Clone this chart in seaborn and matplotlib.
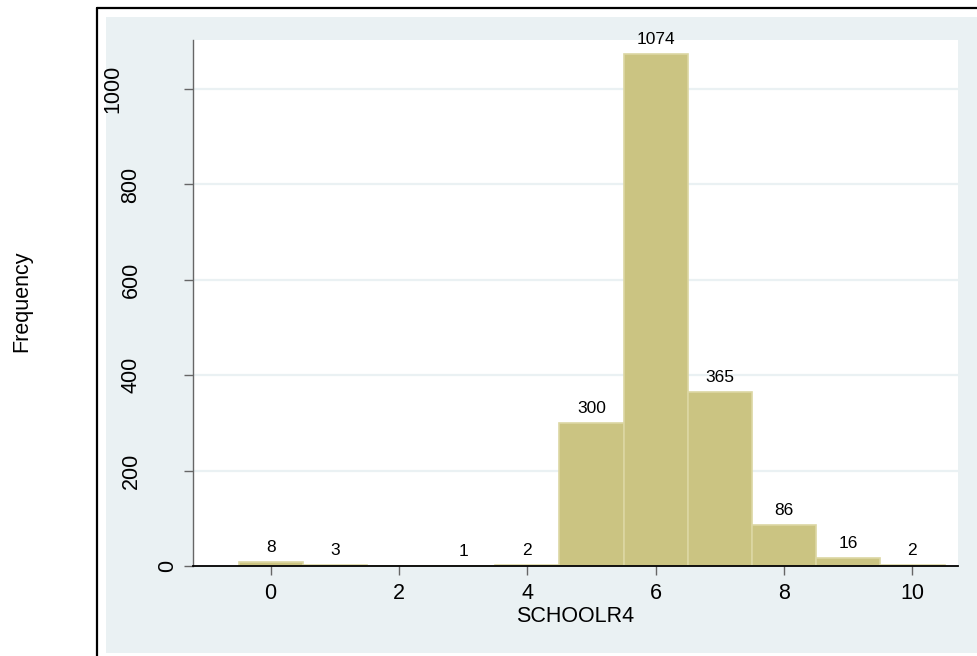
import matplotlib
matplotlib.use("Agg")
import matplotlib.pyplot as plt
from matplotlib.transforms import ScaledTranslation
from matplotlib.patches import Rectangle
from matplotlib.lines import Line2D
import seaborn as sns
import pandas as pd

# Years of schooling (SCHOOLR4) and their frequencies
school_years = [0, 1, 2, 3, 4, 5, 6, 7, 8, 9, 10]
frequencies = [8, 3, 0, 1, 2, 300, 1074, 365, 86, 16, 2]
y_ticks = [0, 200, 400, 600, 800, 1000]
x_ticks = [0, 2, 4, 6, 8, 10]

sns.set_theme(style="white")
plt.rcParams["font.family"] = ["Liberation Sans", "DejaVu Sans"]
plt.rcParams["text.color"] = "black"

W, H, DPI = 978, 656, 100
fig = plt.figure(figsize=(W / DPI, H / DPI), dpi=DPI, facecolor="white")

# graph region: pale bluish-gray panel inside a black frame
fig.patches.append(Rectangle((106 / W, 1 - 653 / H), 1, (653 - 17) / H,
                             transform=fig.transFigure, facecolor="#eaf1f3",
                             edgecolor="none", zorder=-10))
fig.lines.append(Line2D([97 / W, 97 / W], [0, 1 - 8 / H], transform=fig.transFigure,
                        color="black", lw=1.6, zorder=1))
fig.lines.append(Line2D([97 / W, 1], [1 - 8 / H, 1 - 8 / H], transform=fig.transFigure,
                        color="black", lw=1.6, zorder=1))

left, right, top, bottom = 193, 958, 40, 566
ax = fig.add_axes([left / W, 1 - bottom / H, (right - left) / W, (bottom - top) / H])
ax.set_facecolor("white")

df = pd.DataFrame({"SCHOOLR4": school_years, "count": frequencies})
sns.histplot(data=df, x="SCHOOLR4", weights="count", discrete=True, ax=ax,
             color="#cbc482", alpha=1.0, edgecolor="#dcd7a3", linewidth=1.2, zorder=2)

ax.set_xlim(-1.21, 10.71)
ax.set_ylim(0, 1103)

# horizontal grid
ax.set_axisbelow(True)
for v in y_ticks[1:]:
    ax.axhline(v, color="#eaf1f3", lw=1.6, zorder=1)

for s in ["top", "right"]:
    ax.spines[s].set_visible(False)
ax.spines["left"].set_color("#666666")
ax.spines["left"].set_linewidth(1.0)
ax.spines["bottom"].set_color("black")
ax.spines["bottom"].set_linewidth(1.3)
ax.spines["bottom"].set_zorder(3)

ax.set_xticks(x_ticks)
ax.set_xticklabels([str(t) for t in x_ticks], fontsize=15.5)
ax.tick_params(axis="x", direction="out", length=6.5, width=1.0, color="#666666", pad=6,
               bottom=True, labelcolor="black")
ax.set_yticks(y_ticks)
ax.set_yticklabels([])
ax.tick_params(axis="y", direction="out", length=6.5, width=1.0, color="#666666", left=True)

# rotated y tick labels
for v in y_ticks:
    txt = str(v)
    dx = (4 - 18.5 * len(txt)) / DPI
    tr = ax.get_yaxis_transform() + ScaledTranslation(dx, 0, fig.dpi_scale_trans)
    ax.text(0, v, txt, transform=tr, rotation=90, ha="right", va="center",
            fontsize=15.5, color="black", clip_on=False)

ax.set_xlabel("SCHOOLR4", fontsize=15.5, labelpad=1, color="black")
ax.set_ylabel("")
fig.text(22 / W, 1 - 301 / H, "Frequency", rotation=90, ha="center", va="center",
         fontsize=15.5, color="black")

# value labels on bars with a nonzero count
bars = ax.containers[0]
labels = [str(int(b.get_height())) if b.get_height() > 0 else "" for b in bars]
ax.bar_label(bars, labels=labels, padding=5, fontsize=12.5, color="black")

fig.savefig("out.png", dpi=DPI, facecolor="white")
